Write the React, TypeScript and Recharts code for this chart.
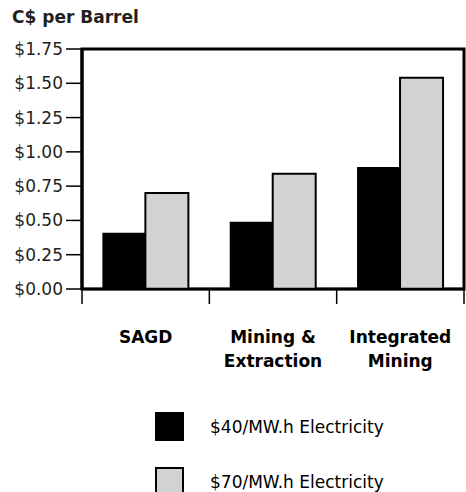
import React from "react";
import {
  BarChart,
  Bar,
  XAxis,
  YAxis,
  Legend,
  ReferenceArea,
} from "recharts";

// values
const categories = ["SAGD", "Mining & Extraction", "Integrated Mining"];
const categoryLines = [["SAGD"], ["Mining &", "Extraction"], ["Integrated", "Mining"]];
const low = [0.41, 0.49, 0.89];
const high = [0.7, 0.84, 1.54];
const yTicks = [0, 0.25, 0.5, 0.75, 1, 1.25, 1.5, 1.75];
const seriesNames = ["$40/MW.h Electricity", "$70/MW.h Electricity"];

const data = categories.map((c, i) => ({ name: c, low: low[i], high: high[i] }));

const FONT = "'DejaVu Sans', sans-serif";
const INK = "#000000";
const GREY = "#d1d2d4";

// category label plus tick marks on the band edges
const CategoryTick = (props: any) => {
  const { x, y, index, payload, width, visibleTicksCount } = props;
  const lines = categoryLines[index] || [];
  const half =
    payload && typeof payload.offset === "number" && payload.offset > 0
      ? payload.offset
      : width / (2 * (visibleTicksCount || categories.length));
  const isLast = index === (visibleTicksCount || categories.length) - 1;
  return (
    <g>
      <line x1={x - half} x2={x - half} y1={y} y2={y + 15} stroke={INK} strokeWidth={1.5} />
      {isLast && <line x1={x + half} x2={x + half} y1={y} y2={y + 15} stroke={INK} strokeWidth={1.5} />}
      <text x={x} y={y} textAnchor="middle" fontFamily={FONT} fontSize={17} fontWeight="bold" fill={INK}>
        {lines.map((l, i) => (
          <tspan key={i} x={x} dy={i === 0 ? 54 : 24}>
            {l}
          </tspan>
        ))}
      </text>
    </g>
  );
};

const LegendBox = () => (
  <div style={{ fontFamily: FONT, fontSize: 17, color: INK }}>
    {seriesNames.map((n, i) => (
      <div key={n} style={{ display: "flex", alignItems: "center", height: 29, marginBottom: 26 }}>
        <div
          style={{
            width: i === 0 ? 29 : 25,
            height: i === 0 ? 29 : 25,
            background: i === 0 ? INK : GREY,
            border: i === 0 ? "none" : `2px solid ${INK}`,
            marginRight: 26,
          }}
        />
        <span>{n}</span>
      </div>
    ))}
  </div>
);

export default function App() {
  return (
    <div style={{ position: "absolute", left: 0, top: 0, width: 466, height: 492, background: "#fff" }}>
      <div
        style={{
          position: "absolute",
          left: 12,
          top: 7,
          fontFamily: FONT,
          fontSize: 17,
          fontWeight: "bold",
          color: "#231f20",
        }}
      >
        C$ per Barrel
      </div>
      <BarChart
        width={466}
        height={492}
        data={data}
        margin={{ top: 49, right: 2, bottom: 103, left: 0 }}
        barCategoryGap="16%"
        barGap={0}
      >
        <XAxis
          dataKey="name"
          axisLine={{ stroke: INK, strokeWidth: 2.5 }}
          tickLine={false}
          tickSize={0}
          tickMargin={0}
          height={100}
          interval={0}
          tick={<CategoryTick />}
        />
        <YAxis
          domain={[0, 1.75]}
          ticks={yTicks}
          width={82}
          tickSize={16}
          tickMargin={3}
          tickFormatter={(v: number) => `$${v.toFixed(2)}`}
          tick={{ fontFamily: FONT, fontSize: 17, fill: "#231f20" }}
          axisLine={{ stroke: INK, strokeWidth: 3 }}
          tickLine={{ stroke: INK, strokeWidth: 1.5 }}
        />
        {/* box round the plot */}
        <ReferenceArea
          x1={categories[0]}
          x2={categories[categories.length - 1]}
          y1={0}
          y2={1.75}
          fill="none"
          fillOpacity={0}
          stroke={INK}
          strokeWidth={3}
          ifOverflow="visible"
        />
        <Bar dataKey="low" name={seriesNames[0]} fill={INK} isAnimationActive={false} />
        <Bar
          dataKey="high"
          name={seriesNames[1]}
          fill={GREY}
          stroke={INK}
          strokeWidth={2}
          isAnimationActive={false}
        />
        <Legend
          layout="horizontal"
          verticalAlign="middle"
          content={<LegendBox />}
          wrapperStyle={{ position: "absolute", left: 155, top: 412, width: 300 }}
        />
      </BarChart>
    </div>
  );
}
